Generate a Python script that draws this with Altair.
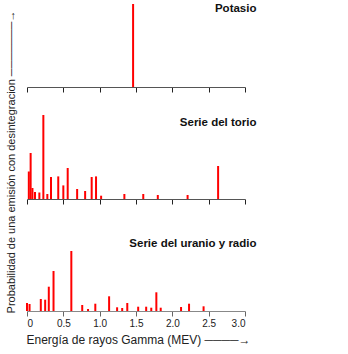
import altair as alt
import pandas as pd

# Potasio
k_energy = [1.46]
k_intens = [100]

# Serie del torio
th_energy = [0.025, 0.05, 0.075, 0.11, 0.17, 0.225, 0.28, 0.33, 0.43, 0.50, 0.56, 0.69,
             0.80, 0.89, 0.95, 1.02, 1.34, 1.60, 1.80, 2.21, 2.63]
th_intens = [27.5, 46, 11, 7, 6.5, 84, 5, 22, 22.6, 13.6, 31, 10,
             8, 22, 22.6, 3.3, 5, 5, 4, 4, 33]

# Serie del uranio y radio
u_energy = [0.0, 0.035, 0.19, 0.25, 0.30, 0.365, 0.61, 0.76, 0.84, 0.94, 1.13, 1.24,
            1.31, 1.38, 1.53, 1.64, 1.71, 1.78, 1.84, 2.12, 2.23, 2.43]
u_intens = [8, 7, 12, 11.3, 24.3, 40, 60, 6, 2, 7.3, 14.7, 3.7,
            3, 8, 4.3, 4.3, 3.3, 18.7, 3.3, 4, 7.3, 4.7]

x_ticks = [0, 0.5, 1.0, 1.5, 2.0, 2.5, 3.0]

RED = "#ff0000"
FONT = "Liberation Sans"


def panel(energy, intens, title, h, ymax, title_y, bottom=False):
    df = pd.DataFrame({"E": energy, "I": intens})
    if bottom:
        xaxis = alt.Axis(values=x_ticks, labelExpr="datum.value == 0 ? '0' : format(datum.value, '.1f')",
                         title="Energía de rayos Gamma (MEV)    ────→", grid=False,
                         domainColor="#888888", tickColor="#666666", tickSize=5,
                         labelFont=FONT, labelFontSize=10, labelColor="#222222", labelPadding=2,
                         titleFont=FONT, titleFontSize=12, titleFontWeight="normal",
                         titleColor="#222222", titlePadding=6,
                         titleAnchor="start", titleAlign="left", titleX=-1)
    else:
        xaxis = alt.Axis(values=x_ticks, labels=False, title=None, grid=False,
                         domainColor="#555555", tickColor="#222222", tickSize=5)
    bars = alt.Chart(df).mark_bar(color=RED, size=2).encode(
        x=alt.X("E:Q", scale=alt.Scale(domain=[0, 3], nice=False, padding=0), axis=xaxis),
        y=alt.Y("I:Q", scale=alt.Scale(domain=[0, ymax], nice=False), axis=None),
    )
    txt = alt.Chart(pd.DataFrame({"t": [title]})).mark_text(
        font=FONT, fontSize=11.5, fontWeight="bold", align="right", baseline="middle", color="#111111"
    ).encode(text="t:N", x=alt.value(229.5), y=alt.value(title_y))
    return alt.layer(bars, txt).properties(width=218, height=h)


p1 = panel(k_energy, k_intens, "Potasio", 83, 100, 5)
p2 = panel(th_energy, th_intens, "Serie del torio", 100, 100, 24)
p3 = panel(u_energy, u_intens, "Serie del uranio y radio", 100, 100, 33, bottom=True)

chart = alt.vconcat(p1, p2, p3, spacing=6).properties(
    title=alt.TitleParams(
        text="Probabilidad de una emisión con  desintegracion ───────→",
        orient="left", anchor="middle", font=FONT, fontSize=11, fontWeight="normal",
        color="#222222", offset=9.5, dx=12),
    padding={"left": 5, "top": 3, "right": 5, "bottom": 5},
).configure_view(stroke=None)

chart.save("out.html", embed_options={"renderer": "svg", "actions": False})
